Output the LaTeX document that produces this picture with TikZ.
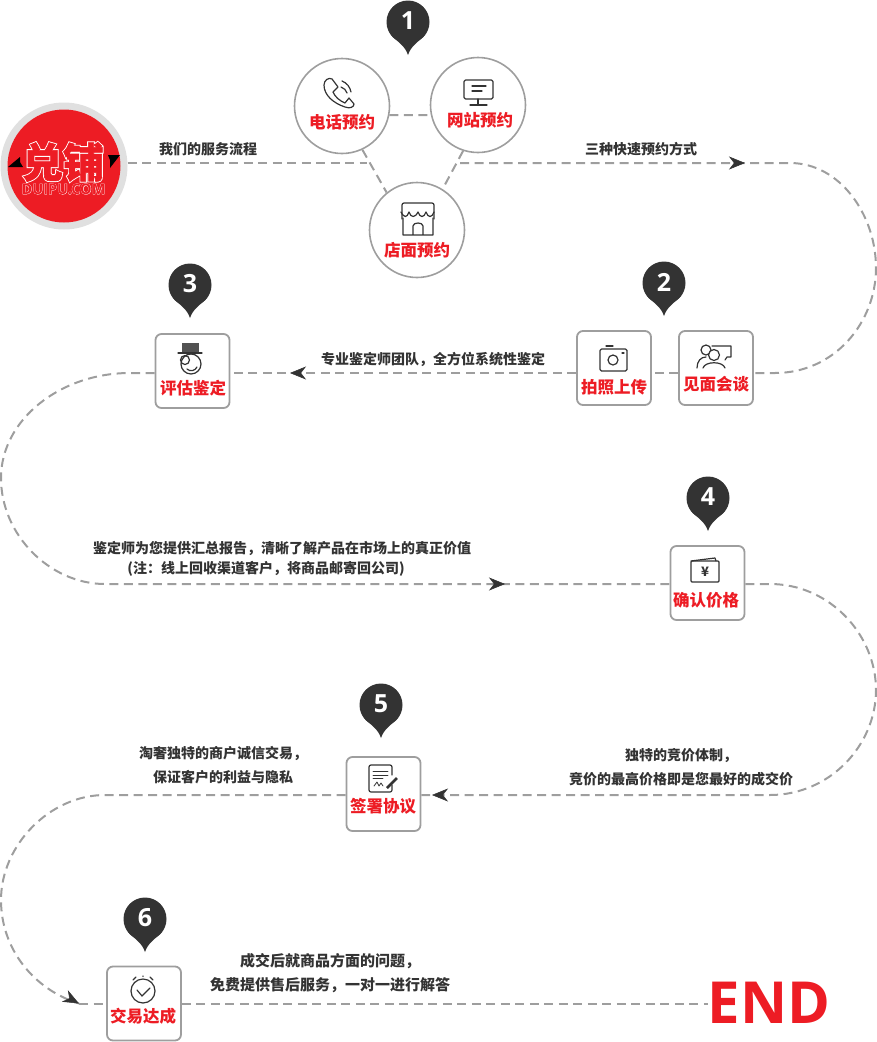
\documentclass[tikz,border=0pt]{standalone}
\usepackage{fontspec}
\setmainfont{Noto Sans CJK SC}
\newfontfamily\endfont{Open Sans}
\newfontfamily\logoglow{Noto Sans CJK SC}[BoldFeatures={FakeBold=6}]
\newfontfamily\logocore{Noto Sans CJK SC}[BoldFeatures={FakeBold=1.5}]
\newfontfamily\logoglowlat{Open Sans}[BoldFeatures={FakeBold=3}]
\usetikzlibrary{arrows.meta}
\definecolor{brandred}{HTML}{ED1C24}
\definecolor{inkdark}{HTML}{333333}
\definecolor{flowgray}{HTML}{9E9E9E}
\tikzset{
  flow/.style={draw=flowgray,line width=2pt,dash pattern=on 9pt off 5.5pt},
  tipmark/.style={draw=inkdark,line width=.5pt,-{Stealth[length=16pt,width=13pt,inset=5pt]}},
  ring/.style={circle,draw=flowgray,line width=1.6pt,fill=white,minimum size=95pt,inner sep=0pt},
  stepbox/.style={rectangle,rounded corners=6pt,draw=flowgray,line width=1.8pt,fill=white,minimum size=74pt,inner sep=0pt},
  redlab/.style={text=brandred,font=\bfseries\fontsize{16.5}{18}\selectfont,inner sep=0pt},
  lab/.style={text=inkdark,font=\bfseries\fontsize{14}{24}\selectfont,align=center,inner sep=0pt},
  pinnum/.style={text=white,font=\endfont\bfseries\fontsize{25}{26}\selectfont,inner sep=0pt},
  icon/.style={draw=inkdark,line width=1.2pt,line cap=round,line join=round}
}
\begin{document}
\begin{tikzpicture}[x=1pt,y=-1pt]
\useasboundingbox (0,0) rectangle (877,1042);
% path coordinates
\coordinate (stopA) at (367,163);
\coordinate (startA) at (460,163);
\coordinate (tipA) at (745,163);
\coordinate (tipB) at (290,373);
\coordinate (tipC) at (505,584);
\coordinate (tipD) at (432,795);
\coordinate (tipE) at (79,1003.5);
% steps
\node[circle,fill=black!12,minimum size=127pt,inner sep=0pt] (logoback) at (64,166) {};
\node[circle,fill=brandred,minimum size=113pt,inner sep=0pt] (logo) at (64,166) {};
\node[ring] (call) at (342,106) {};
\node[ring] (web) at (478,105) {};
\node[ring] (shop) at (417,230) {};
\node[stepbox] (talk) at (716,368) {};
\node[stepbox] (photo) at (614,368) {};
\node[stepbox] (judge) at (192.5,371) {};
\node[stepbox] (price) at (707.5,583) {};
\node[stepbox] (sign) at (383.5,794) {};
\node[stepbox] (deal) at (144,1003.5) {};
\node[text=brandred,font=\endfont\bfseries\fontsize{58}{60}\selectfont,inner sep=0pt] (finish) at (769,1003) {END};
% dashed lines
\draw[flow] (logoback.east |- stopA) -- (stopA);
\draw[flow] (call.-11) -- (web.192);
\draw[flow] (call.-65) -- (shop.129);
\draw[flow] (web.-108) -- (shop.58);
\draw[flow] (startA) -- (790,163) .. controls (840,163) and (876,215) .. (876,268) .. controls (876,322) and (835,373) .. (775,373) -- (talk.east |- 0,373);
\draw[flow] (talk.west |- 0,373) -- (photo.east |- 0,373);
\draw[flow] (photo.west |- 0,373) -- (judge.east |- 0,373);
\draw[flow] (judge.west |- 0,373) -- (130,373) .. controls (60,373) and (1,420) .. (1,478) .. controls (1,535) and (50,584) .. (105,584) -- (price.west |- 0,584);
\draw[flow] (price.east |- 0,584) -- (770,584) .. controls (830,584) and (876,635) .. (876,690) .. controls (876,745) and (830,795) .. (770,795) -- (sign.east |- 0,795);
\draw[flow] (sign.west |- 0,795) -- (105,795) .. controls (50,795) and (1,845) .. (1,900) .. controls (1,950) and (35,990) .. (tipE);
\draw[flow] (tipE) -- (deal.west |- tipE);
\draw[flow] (deal.east |- tipE) -- (finish.west |- tipE);
% arrow tips
\draw[tipmark] ([xshift=-3pt]tipA) -- (tipA);
\draw[tipmark] ([xshift=3pt]tipB) -- (tipB);
\draw[tipmark] ([xshift=-3pt]tipC) -- (tipC);
\draw[tipmark] ([xshift=3pt]tipD) -- (tipD);
\draw[tipmark] ([xshift=-3pt,yshift=1.6pt]tipE) -- (tipE);
% number pins
\foreach \n/\px/\py in {1/408/22,2/664/283,3/190/285,4/708/498,5/381/705,6/145/919}{
  \fill[inkdark] (\px,\py) circle (21.5);
  \fill[inkdark,shift={(\px,\py)}] (-17,13) .. controls (-9,21) and (-3,24) .. (0,33) .. controls (3,24) and (9,21) .. (17,13) -- cycle;
  \node[pinnum] (pin\n) at (\px,\py-1) {\n};
}
% red labels
\foreach \nm/\px/\py/\lab in {callT/342/122/电话预约,webT/480/120/网站预约,shopT/417/250/店面预约,talkT/716/384/见面会谈,photoT/614/387/拍照上传,judgeT/193/388/评估鉴定,priceT/706/600/确认价格,signT/383/806/签署协议,dealT/143/1016/交易达成}{
  \node[redlab] (\nm) at (\px,\py) {\lab};
}
% dark labels
\node[lab] (labA) at (208,149) {我们的服务流程};
\node[lab] (labB) at (641,149) {三种快速预约方式};
\node[lab] (labC) at (433,359) {专业鉴定师团队，全方位系统性鉴定};
\node[lab] (labD) at (282,549) {鉴定师为您提供汇总报告，清晰了解产品在市场上的真正价值};
\node[lab] (labDb) at (266,569) {(注：线上回收渠道客户，将商品邮寄回公司)};
\node[lab] (labE) at (681,767) {独特的竞价体制，\\竞价的最高价格即是您最好的成交价};
\node[lab] (labF) at (223,765) {淘奢独特的商户诚信交易，\\保证客户的利益与隐私};
\node[lab,font=\bfseries\fontsize{15}{24}\selectfont] (labG) at (330,973) {成交后就商品方面的问题，\\免费提供售后服务，一对一进行解答};
% logo
\fill[black] (8,167) -- (20,157) -- (20,162) -- (23,167) -- cycle;
\fill[black] (108,155) -- (120,155) -- (110,168) -- (110,160) -- cycle;
\node[text=white,font=\logoglow\bfseries\fontsize{41}{42}\selectfont,inner sep=0pt] (logoG) at (63,162) {兑铺};
\node[text=brandred,font=\logocore\bfseries\fontsize{41}{42}\selectfont,inner sep=0pt] (logoT) at (63,162) {兑铺};
\node[text=white,font=\logoglowlat\bfseries\fontsize{14.5}{15}\selectfont,inner sep=0pt] (logoSG) at (63.5,189) {DUIPU.COM};
\node[text=brandred,font=\endfont\bfseries\fontsize{14.5}{15}\selectfont,inner sep=0pt] (logoS) at (63.5,189) {DUIPU.COM};
% icons
\draw[icon] (324,85) .. controls (324,80) and (329,77) .. (332,79) -- (338,87) -- (333,92) .. controls (335,97) and (340,101) .. (345,103) -- (349,98) -- (354,104) .. controls (354,107) and (350,109) .. (345,107) .. controls (333,103) and (324,95) .. (324,85) -- cycle;
\draw[icon] (341,87) .. controls (344,88) and (346,90) .. (347,93);
\draw[icon] (342,81) .. controls (347,83) and (350,87) .. (351,92);
\draw[icon,rounded corners=1.5pt] (464,80) rectangle (493,99);
\draw[icon] (472,86) -- (486,86) (472,91) -- (482,91) (478,99) -- (478,104) (470,105) -- (487,105);
\draw[icon,rounded corners=2pt] (402,219) -- (402,203) -- (434,203) -- (434,219);
\draw[icon] (401,212) .. controls (404,218) and (407,218) .. (409,212) .. controls (411,218) and (415,218) .. (418,212) .. controls (420,218) and (424,218) .. (426,212) .. controls (428,218) and (432,218) .. (434,212);
\draw[icon] (403,218) -- (403,235) -- (433,235) -- (433,218) (413,235) -- (413,226) .. controls (413,222) and (423,222) .. (423,226) -- (423,235);
\draw[icon,rounded corners=1.5pt] (600,349) rectangle (627,371);
\draw[icon] (613,360) circle (5);
\draw[icon] (606,346) -- (613,346) (622,353) -- (624,353);
\draw[icon] (712,346) -- (731,346) -- (731,357) -- (727,357) -- (725,360);
\draw[icon] (706,350) circle (5);
\draw[icon,fill=white] (714,355) circle (5.5);
\draw[icon] (697,368) .. controls (697,361) and (701,357) .. (706,357) (703,368) .. controls (705,361) and (723,361) .. (725,368);
\fill[inkdark!85] (182,343) rectangle (199,353);
\draw[icon] (178,353) -- (202,353);
\draw[icon] (191,364) circle (10);
\draw[icon] (185,360) circle (4.5);
\draw[icon] (187,369) .. controls (190,372) and (195,371) .. (197,367);
\draw[icon,rounded corners=1pt] (691,561) rectangle (719,582);
\draw[icon] (691,561) -- (715,558) -- (716,561);
\node[text=inkdark,font=\bfseries\fontsize{13}{14}\selectfont,inner sep=0pt] (yen) at (705,572) {¥};
\draw[icon,rounded corners=2pt] (392,785) -- (392,792) -- (369,792) -- (369,765) -- (392,765) -- (392,775);
\draw[icon,line width=.8pt] (373,771) -- (388,771) (373,775) -- (388,775) (373,778) -- (383,778);
\draw[icon,line width=.8pt] (374,786) -- (377,782) -- (379,786) -- (381,783) -- (383,786);
\draw[inkdark,line width=2.6pt] (387,788) -- (397,778);
\draw[icon] (143,991) circle (12);
\draw[icon] (137,990) -- (142,996) -- (150,988);
\draw[icon] (133,980) -- (136,977) (153,980) -- (150,977) (143,976) -- (143,976.5);
\end{tikzpicture}
\end{document}
